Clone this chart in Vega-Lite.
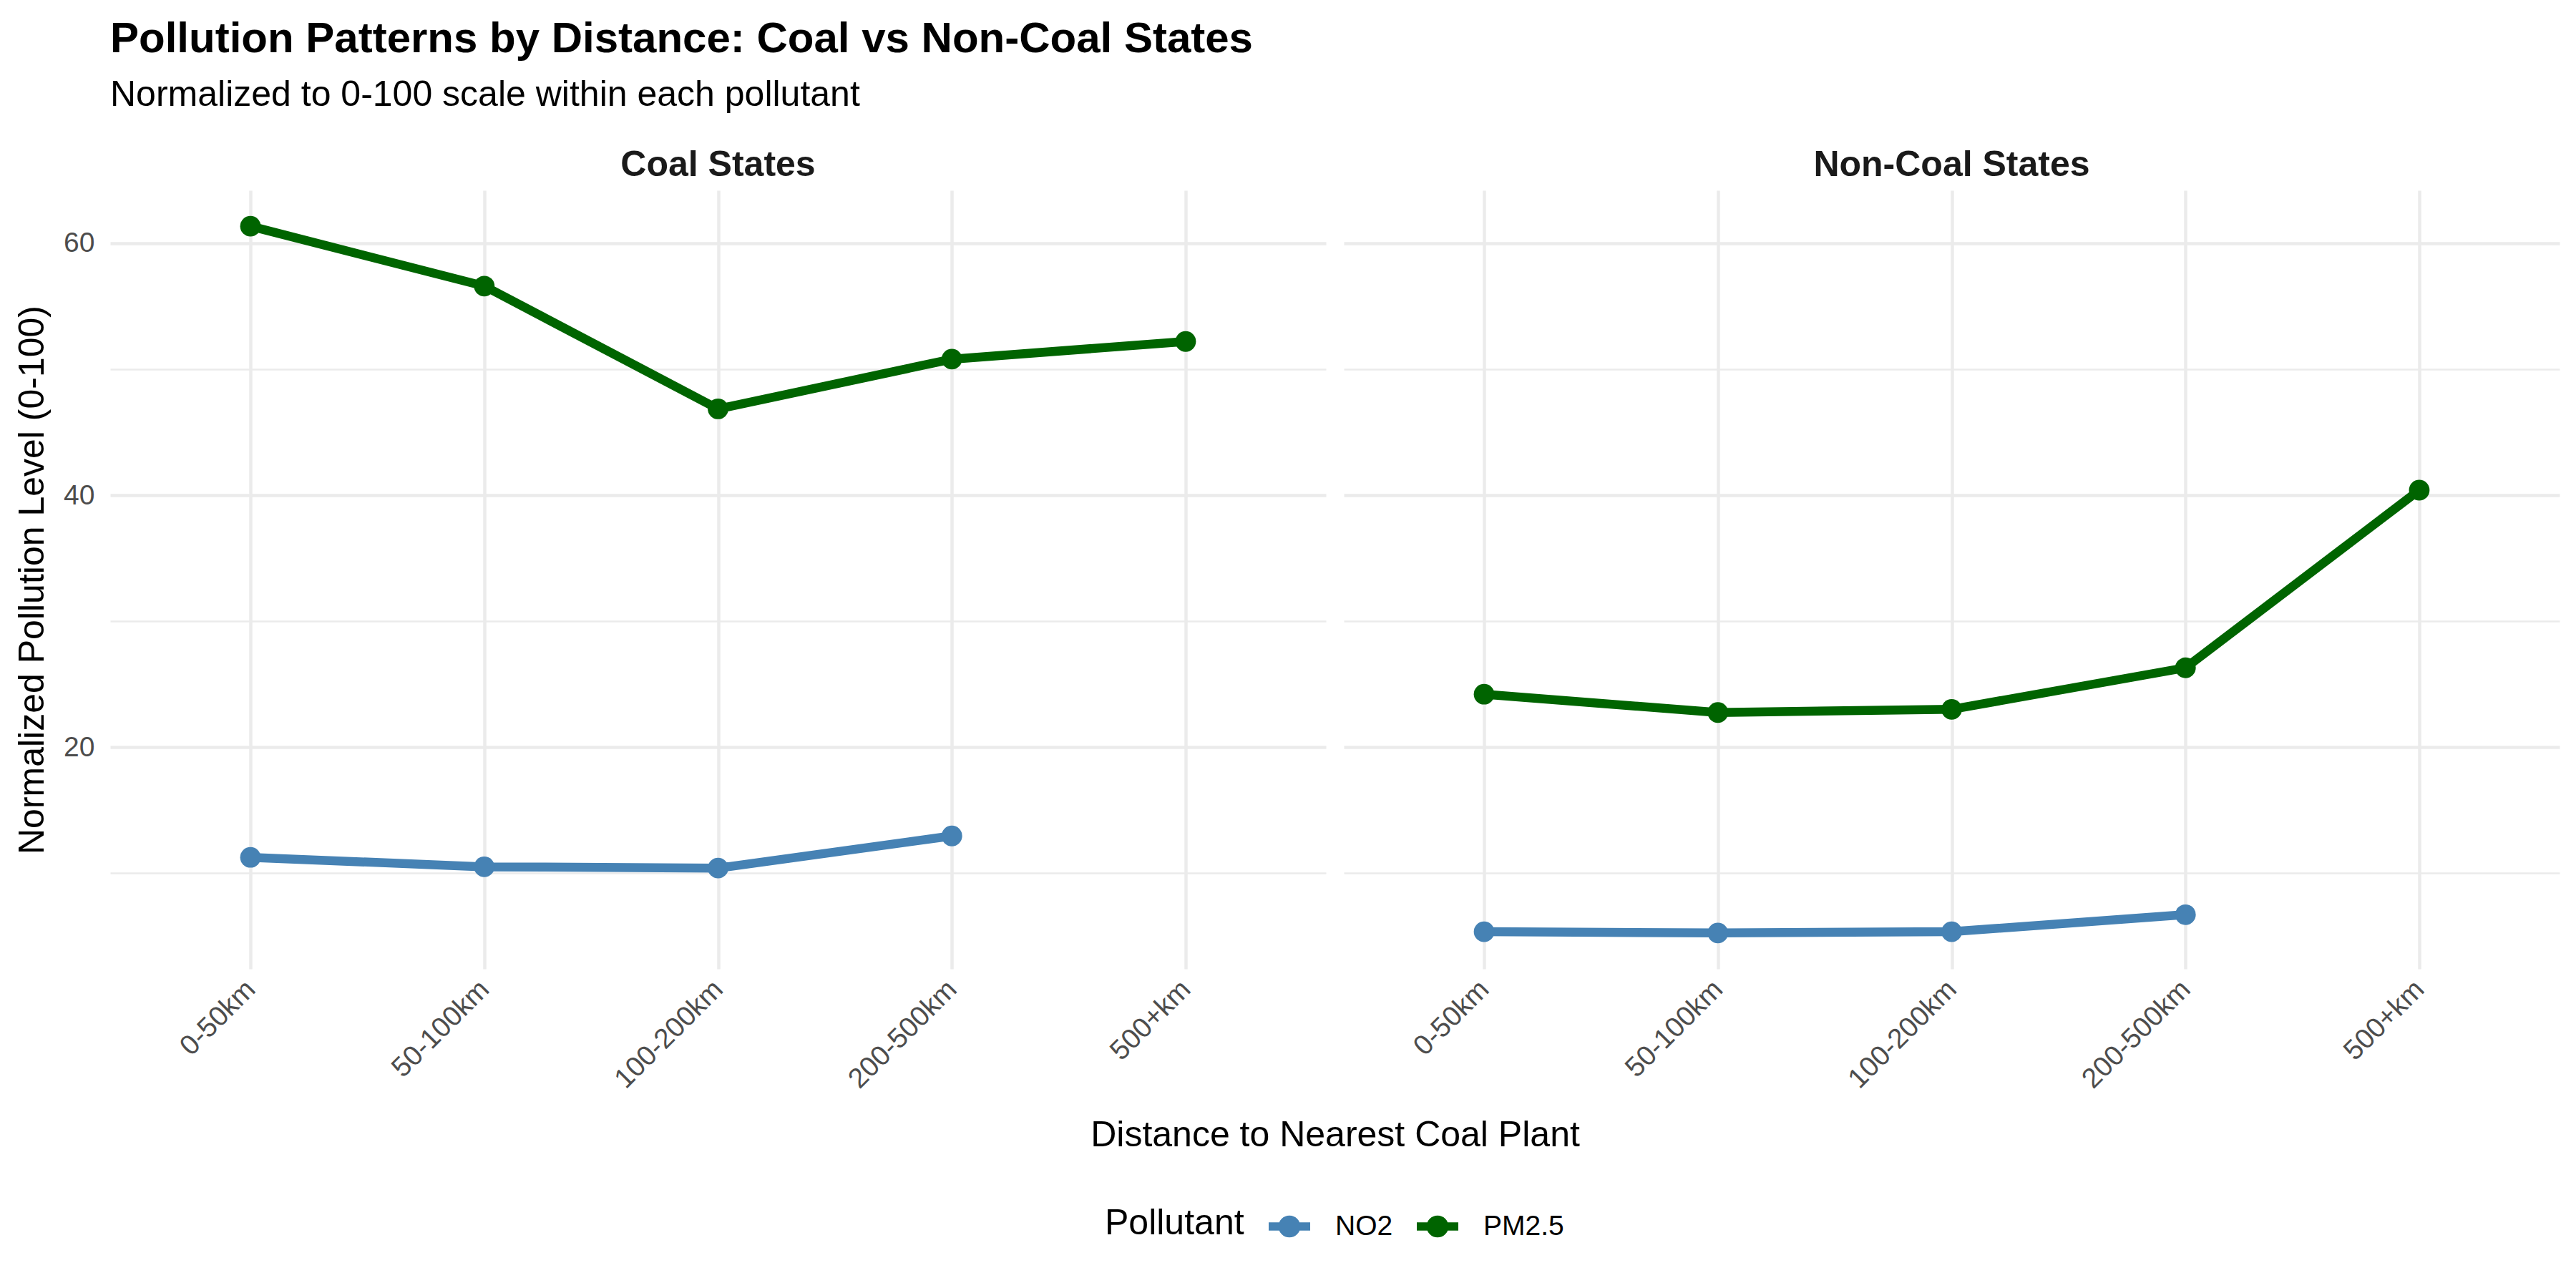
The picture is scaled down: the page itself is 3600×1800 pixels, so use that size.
{
  "$schema": "https://vega.github.io/schema/vega-lite/v6.json",
  "background": "white",
  "padding": {"left": 20, "top": 25, "right": 26, "bottom": 20},
  "title": {
    "text": "Pollution Patterns by Distance: Coal vs Non-Coal States",
    "subtitle": "Normalized to 0-100 scale within each pollutant",
    "anchor": "start",
    "frame": "group",
    "font": "Liberation Sans",
    "fontSize": 60,
    "fontWeight": "bold",
    "color": "#000000",
    "subtitleFont": "Liberation Sans",
    "subtitleFontSize": 50,
    "subtitleColor": "#000000",
    "subtitlePadding": 22,
    "offset": 47
  },
  "data": {
    "values": [
      {"state": "Coal States", "distance": "0-50km", "pollutant": "PM2.5", "value": 61.35},
      {"state": "Coal States", "distance": "50-100km", "pollutant": "PM2.5", "value": 56.6},
      {"state": "Coal States", "distance": "100-200km", "pollutant": "PM2.5", "value": 46.85},
      {"state": "Coal States", "distance": "200-500km", "pollutant": "PM2.5", "value": 50.8},
      {"state": "Coal States", "distance": "500+km", "pollutant": "PM2.5", "value": 52.2},
      {"state": "Coal States", "distance": "0-50km", "pollutant": "NO2", "value": 11.25},
      {"state": "Coal States", "distance": "50-100km", "pollutant": "NO2", "value": 10.5},
      {"state": "Coal States", "distance": "100-200km", "pollutant": "NO2", "value": 10.4},
      {"state": "Coal States", "distance": "200-500km", "pollutant": "NO2", "value": 12.95},
      {"state": "Non-Coal States", "distance": "0-50km", "pollutant": "PM2.5", "value": 24.2},
      {"state": "Non-Coal States", "distance": "50-100km", "pollutant": "PM2.5", "value": 22.75},
      {"state": "Non-Coal States", "distance": "100-200km", "pollutant": "PM2.5", "value": 23.0},
      {"state": "Non-Coal States", "distance": "200-500km", "pollutant": "PM2.5", "value": 26.3},
      {"state": "Non-Coal States", "distance": "500+km", "pollutant": "PM2.5", "value": 40.4},
      {"state": "Non-Coal States", "distance": "0-50km", "pollutant": "NO2", "value": 5.35},
      {"state": "Non-Coal States", "distance": "50-100km", "pollutant": "NO2", "value": 5.25},
      {"state": "Non-Coal States", "distance": "100-200km", "pollutant": "NO2", "value": 5.35},
      {"state": "Non-Coal States", "distance": "200-500km", "pollutant": "NO2", "value": 6.7}
    ]
  },
  "facet": {
    "column": {
      "field": "state",
      "type": "nominal",
      "title": "Distance to Nearest Coal Plant",
      "header": {
        "labelFont": "Liberation Sans",
        "labelFontSize": 50,
        "labelFontWeight": "bold",
        "labelColor": "#1a1a1a",
        "labelPadding": 10,
        "titleOrient": "bottom",
        "titleFont": "Liberation Sans",
        "titleFontSize": 50,
        "titleFontWeight": "normal",
        "titleColor": "#000000",
        "titlePadding": 23
      }
    }
  },
  "spacing": 25,
  "spec": {
    "width": 1699,
    "height": 1088,
    "encoding": {
      "x": {
        "field": "distance",
        "type": "ordinal",
        "sort": ["0-50km", "50-100km", "100-200km", "200-500km", "500+km"],
        "scale": {"type": "point", "padding": 0.6},
        "title": null,
        "axis": {"grid": true, "labelAngle": -45, "labelAlign": "right", "labelBaseline": "middle", "labelPadding": 22, "labelLimit": 0}
      },
      "y": {
        "field": "value",
        "type": "quantitative",
        "scale": {"domain": [2.4, 64.2], "nice": false, "zero": false},
        "title": "Normalized Pollution Level (0-100)",
        "axis": {
          "values": [10, 20, 30, 40, 50, 60],
          "labelExpr": "datum.value % 20 == 0 ? datum.label : ''",
          "gridWidth": {"condition": {"test": "datum.value % 20 == 0", "value": 4.5}, "value": 2.3},
          "labelPadding": 22,
          "titlePadding": 18
        }
      },
      "color": {
        "field": "pollutant",
        "type": "nominal",
        "title": "Pollutant",
        "scale": {"domain": ["NO2", "PM2.5"], "range": ["#4682B4", "#006400"]},
        "legend": {
          "orient": "none",
          "legendX": 1390,
          "legendY": 1419,
          "direction": "horizontal",
          "titleOrient": "left",
          "titleLimit": 0,
          "labelLimit": 0,
          "symbolType": "M-1,-0.2H-0.45V0.2H-1Z M1,-0.2V0.2H0.45V-0.2Z M0.53,0A0.53,0.53 0 1,1 -0.53,0A0.53,0.53 0 1,1 0.53,0Z",
          "symbolSize": 3364,
          "symbolStrokeWidth": 0,
          "symbolOpacity": 1,
          "labelFont": "Liberation Sans",
          "labelFontSize": 39,
          "labelColor": "#000000",
          "titleFont": "Liberation Sans",
          "titleFontSize": 50,
          "titleFontWeight": "normal",
          "titleColor": "#000000",
          "labelOffset": 35,
          "columnPadding": 33,
          "titlePadding": 34
        }
      }
    },
    "layer": [
      {"mark": {"type": "line", "strokeWidth": 12.5}},
      {"mark": {"type": "point", "filled": true, "size": 830, "opacity": 1}}
    ]
  },
  "config": {
    "view": {"stroke": null},
    "axis": {
      "domain": false,
      "ticks": false,
      "labelFont": "Liberation Sans",
      "labelFontSize": 39,
      "labelColor": "#4d4d4d",
      "titleFont": "Liberation Sans",
      "titleFontSize": 50,
      "titleFontWeight": "normal",
      "titleColor": "#000000",
      "gridColor": "#ebebeb",
      "gridWidth": 4.5
    }
  }
}
